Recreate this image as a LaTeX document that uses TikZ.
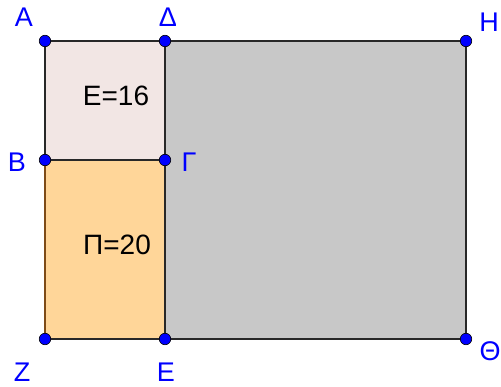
\documentclass[tikz,border=0pt]{standalone}
\usepackage{fontspec}
\setmainfont{Liberation Sans}
\definecolor{pinkfill}{RGB}{242,230,228}
\definecolor{orangefill}{RGB}{255,214,153}
\definecolor{grayfill}{RGB}{200,200,200}
\definecolor{edgecol}{RGB}{40,40,40}
\definecolor{ptblue}{RGB}{0,0,255}
\tikzset{
  pt/.style={circle,fill=ptblue,draw=black,line width=0.6pt,inner sep=0pt,minimum size=11.5pt},
  lbl/.style={text=ptblue,font=\fontsize{27}{29}\selectfont,inner sep=0pt},
  val/.style={font=\fontsize{28}{30}\selectfont,inner sep=0pt},
  side/.style={draw=edgecol,line width=1.8pt,line join=miter}
}
\begin{document}
\begin{tikzpicture}[x=1pt,y=-1pt]
  \useasboundingbox (0,0) rectangle (501,387);
  % vertices
  \coordinate (A) at (45,41);
  \coordinate (D) at (165,41);
  \coordinate (H) at (466,41);
  \coordinate (B) at (45,160);
  \coordinate (G) at (165,160);
  \coordinate (Z) at (45,339);
  \coordinate (E) at (165,339);
  \coordinate (T) at (466,339);
  % regions
  \fill[grayfill] (D) -- (H) -- (T) -- (E) -- cycle;
  \fill[pinkfill] (A) -- (D) -- (G) -- (B) -- cycle;
  \fill[orangefill] (B) -- (G) -- (E) -- (Z) -- cycle;
  \draw[side] (D) -- (H) -- (T) -- (E);
  \draw[side] (A) -- (D) -- (G) -- (B) -- cycle;
  \draw[side,draw=orange!40!edgecol] (B) -- (Z) -- (E) -- (G);
  \draw[side] (Z) -- (E) -- (G);
  \node[val] (area) at (116,96) {E=16};
  \node[val] (perim) at (117,245) {Π=20};
  % points
  \foreach \p in {A,D,H,B,G,Z,E,T}
    \node[pt] at (\p) {};
  % labels
  \node[lbl] (lA) at (24,17) {A};
  \node[lbl] (lD) at (168,17) {Δ};
  \node[lbl] (lH) at (489,22) {H};
  \node[lbl] (lB) at (17,162) {B};
  \node[lbl] (lG) at (189,162) {Γ};
  \node[lbl] (lZ) at (22,372) {Z};
  \node[lbl] (lE) at (166,372) {E};
  \node[lbl] (lT) at (490,351) {Θ};
\end{tikzpicture}
\end{document}
